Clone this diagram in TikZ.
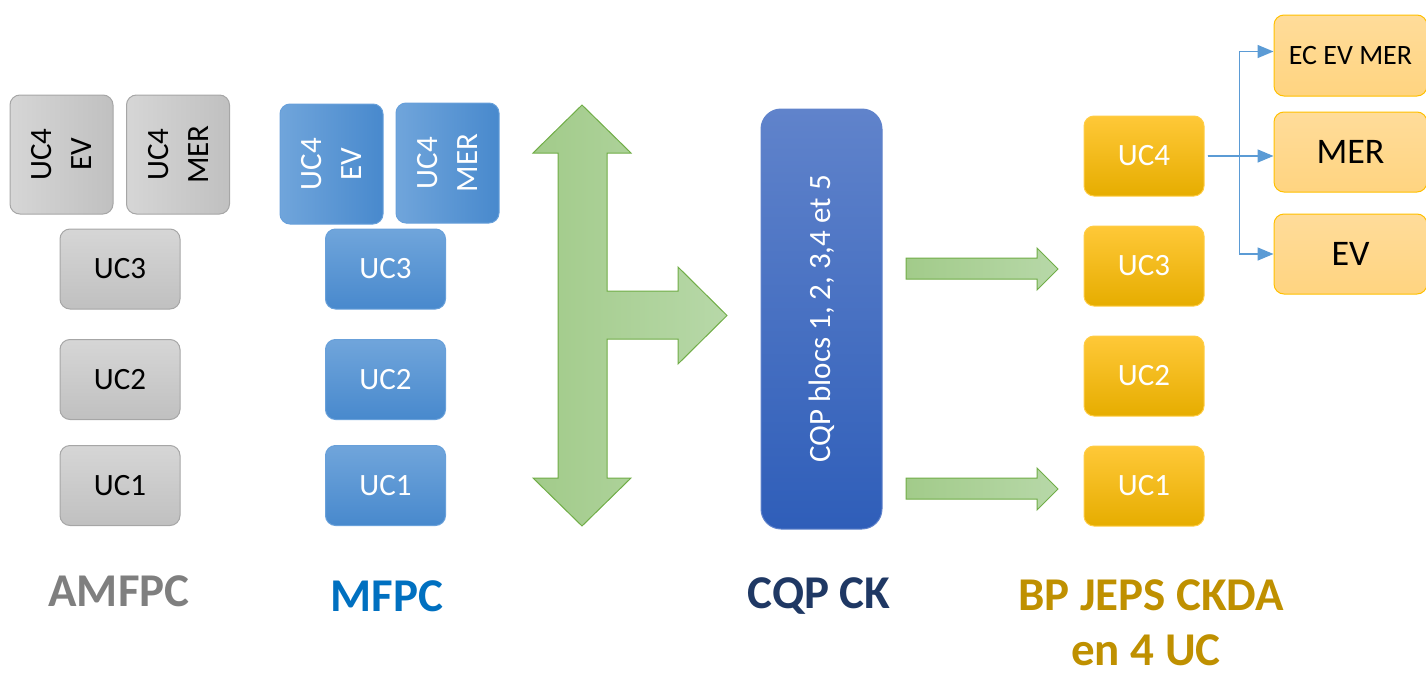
\documentclass[tikz,border=0pt]{standalone}
\usepackage{fontspec}
\setmainfont{Carlito}
\usetikzlibrary{arrows.meta}

\definecolor{greyline}{RGB}{166,166,166}
\definecolor{greytop}{RGB}{214,214,214}
\definecolor{greybot}{RGB}{192,192,192}
\definecolor{blueline}{RGB}{104,160,218}
\definecolor{bluetop}{RGB}{112,165,219}
\definecolor{bluebot}{RGB}{72,137,205}
\definecolor{cqptop}{RGB}{96,131,203}
\definecolor{cqpbot}{RGB}{47,94,185}
\definecolor{goldtop}{RGB}{255,200,56}
\definecolor{goldmid}{RGB}{255,192,0}
\definecolor{goldbot}{RGB}{230,173,0}
\definecolor{goldline}{RGB}{255,205,70}
\definecolor{paletop}{RGB}{255,220,154}
\definecolor{palebot}{RGB}{255,212,128}
\definecolor{paleline}{RGB}{255,192,0}
\definecolor{arrowleft}{RGB}{162,203,138}
\definecolor{arrowright}{RGB}{183,216,168}
\definecolor{arrowline}{RGB}{112,173,71}
\definecolor{linkblue}{RGB}{91,155,213}
\definecolor{titlegrey}{RGB}{127,127,127}
\definecolor{titleblue}{RGB}{0,112,192}
\definecolor{titlenavy}{RGB}{31,56,100}
\definecolor{titlegold}{RGB}{191,144,0}

\begin{document}
\begin{tikzpicture}[x=0.5pt,y=0.5pt,yscale=-1,xscale=1,
  ucbox/.style={rounded corners=5pt, inner sep=0pt, align=center,
    font=\fontsize{15.5}{20}\selectfont, minimum width=60pt, minimum height=40pt},
  greybox/.style={ucbox, draw=greyline, line width=0.5pt, top color=greytop, bottom color=greybot, text=black},
  greytall/.style={ucbox, draw=greyline, line width=0.5pt, left color=greytop, right color=greybot, text=black,
    rotate=90, minimum width=59.5pt, minimum height=51.5pt},
  bluebox/.style={ucbox, draw=blueline, line width=0.5pt, top color=bluetop, bottom color=bluebot, text=white},
  bluetall/.style={ucbox, draw=blueline, line width=0.5pt, left color=bluetop, right color=bluebot, text=white,
    rotate=90, minimum width=60pt, minimum height=51.5pt},
  goldbox/.style={ucbox, draw=goldline, line width=0.5pt, top color=goldtop, middle color=goldmid, bottom color=goldbot, text=white},
  palebox/.style={ucbox, draw=paleline, line width=0.5pt, top color=paletop, bottom color=palebot, text=black, minimum width=76.5pt},
  bigarrow/.style={draw=arrowline, line width=0.5pt, left color=arrowleft, right color=arrowright},
  link/.style={draw=linkblue, line width=0.75pt, -{Triangle[length=8pt,width=6.5pt]}, shorten <=1.5pt},
  title/.style={anchor=base, font=\fontsize{23.5}{28}\selectfont\bfseries}]
\useasboundingbox (0,0) rectangle (1426,675);

% AMFPC column
\node[greytall] (g4ev) at (61.5,154.5) {UC4\\EV};
\node[greytall] (g4mer) at (178,154.5) {UC4\\MER};
\node[greybox] (g3) at (120,269) {UC3};
\node[greybox] (g2) at (120,379.5) {UC2};
\node[greybox] (g1) at (120,485.5) {UC1};

% MFPC column
\node[bluetall] (b4ev) at (331.5,164) {UC4\\EV};
\node[bluetall] (b4mer) at (447.5,163) {UC4\\MER};
\node[bluebox] (b3) at (385.5,269) {UC3};
\node[bluebox] (b2) at (385.5,379.5) {UC2};
\node[bluebox] (b1) at (385.5,485.5) {UC1};

%Shape: Arrow (up, down, right)
\draw[bigarrow] (582,105) -- (631,153) -- (607,153) -- (607,291) -- (678,291) -- (678,267) -- (727,315.5) -- (678,364) -- (678,339) -- (607,339) -- (607,478) -- (631,478) -- (582,526) -- (533,478) -- (558,478) -- (558,153) -- (533,153) -- cycle ;

% CQP block
\node[ucbox, rotate=90, rounded corners=10pt, minimum width=210pt, minimum height=60.5pt,
  draw=cqptop, line width=0.5pt, top color=cqptop, bottom color=cqpbot, text=white]
  (cqp) at (821.5,319) {CQP blocs 1, 2, 3,4 et 5};

%Shape: Right Arrows
\draw[bigarrow] (906,258) -- (1037,258) -- (1037,248) -- (1058,269) -- (1037,290) -- (1037,279) -- (906,279) -- cycle ;
\draw[bigarrow] (906,478) -- (1037,478) -- (1037,468) -- (1058,489) -- (1037,510) -- (1037,499) -- (906,499) -- cycle ;

% BP JEPS column
\node[goldbox] (y4) at (1144,156) {UC4};
\node[goldbox] (y3) at (1144,266) {UC3};
\node[goldbox] (y2) at (1144,376) {UC2};
\node[goldbox] (y1) at (1144,486) {UC1};

\node[palebox, minimum height=40.5pt, font=\fontsize{14}{17}\selectfont] (ecevmer) at (1350.5,55.5) {EC EV MER};
\node[palebox, font=\fontsize{18}{22}\selectfont] (mer) at (1350.5,152) {MER};
\node[palebox, font=\fontsize{18}{22}\selectfont] (ev) at (1350.5,254) {EV};

%Straight Lines
\draw[link] (y4.east) -- ++(35,0) |- ([yshift=-2pt]ecevmer.west);
\draw[link] (y4.east) -- (mer.west |- y4.east);
\draw[link] (y4.east) -- ++(35,0) |- (ev.west);

% Text Node
\node[title, text=titlegrey] (tamfpc) at (119,606) {AMFPC};
\node[title, text=titleblue] (tmfpc) at (387,611) {MFPC};
\node[title, text=titlenavy] (tcqp) at (819,608) {CQP CK};
\node[title, text=titlegold] (tbp) at (1151,610) {BP JEPS CKDA};
\node[title, text=titlegold] (tuc) at (1146,665) {en 4 UC};

\end{tikzpicture}
\end{document}
